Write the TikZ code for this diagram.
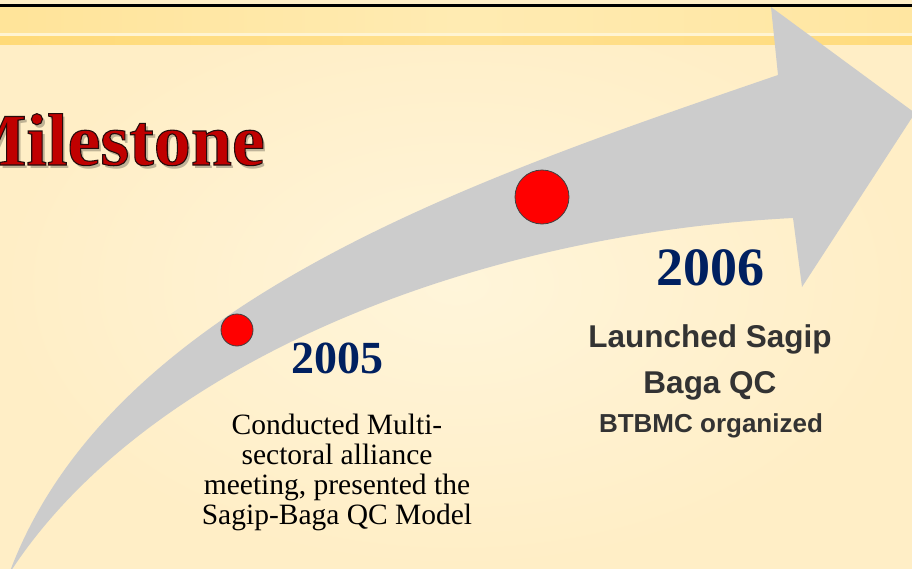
\documentclass[tikz,border=0pt]{standalone}
\usepackage{fontspec}
\setmainfont{Liberation Serif}
\newfontfamily\sansfont{Liberation Sans}
\definecolor{bgin}{HTML}{FFF5DA}
\definecolor{bgout}{HTML}{FFEEC6}
\definecolor{bandL}{HTML}{FFDC80}
\definecolor{bandM}{HTML}{FFEBB2}
\definecolor{bandR}{HTML}{FFE190}
\definecolor{goldL}{HTML}{FFD462}
\definecolor{goldM}{HTML}{FFE08E}
\definecolor{goldR}{HTML}{FFD66C}
\definecolor{bandline}{HTML}{FFF4D2}
\definecolor{arrowgray}{HTML}{CCCCCC}
\definecolor{navy}{HTML}{002060}
\definecolor{titlered}{HTML}{C00000}
\definecolor{textgray}{HTML}{333333}
\definecolor{dotline}{HTML}{404040}
\pgfdeclarehorizontalshading{bandA}{100bp}{color(0bp)=(bandL); color(50bp)=(bandM); color(100bp)=(bandR)}
\pgfdeclarehorizontalshading{bandB}{100bp}{color(0bp)=(goldL); color(50bp)=(goldM); color(100bp)=(goldR)}
\newcommand{\outlinedtext}[1]{\special{pdf:literal 0.15 0.05 0.05 RG 1.1 w 2 Tr}#1\special{pdf:literal 0 Tr}}
\tikzset{
  dot/.style={circle, fill=red, draw=dotline, line width=0.8pt, inner sep=0pt},
  yearlabel/.style={text=navy, inner sep=0pt, anchor=base, font=\bfseries},
  bodytext/.style={align=center, inner sep=0pt, anchor=north, font=\fontsize{29.5}{30}\selectfont, text=black},
  sanstext/.style={align=center, inner sep=0pt, anchor=base, text=textgray},
  titletext/.style={inner sep=0pt, anchor=base east, font=\fontsize{74}{74}\selectfont\bfseries}
}
\begin{document}
\begin{tikzpicture}[x=1pt,y=-1pt]
\useasboundingbox (0,0) rectangle (912,568);
% background
\fill[inner color=bgin, outer color=bgout] (0,0) rectangle (912,568);
% header bands
\shade[shading=bandA] (0,7) rectangle (912,33);
\fill[bandline] (0,33) rectangle (912,36);
\shade[shading=bandB] (0,36) rectangle (912,44);
\fill[black] (0,3.5) rectangle (912,7);
% curved arrow
\fill[arrowgray] (9,574) .. controls (110,300) and (478,178) .. (778,75)
  -- (771,7) -- (915,113) -- (802,287) -- (793,218)
  .. controls (460,235) and (140,370) .. (9,574) -- cycle;
% title with shadow and outline
\node[titletext, text=black, opacity=0.25] (tshadow) at (268,168) {Milestone};
\node[titletext, text=titlered] (title) at (265,165) {\outlinedtext{Milestone}};
% dots
\node[dot, minimum size=32pt] (d1) at (237,330) {};
\node[dot, minimum size=54pt] (d2) at (542,197) {};
% 2005
\node[yearlabel, font=\fontsize{46}{46}\selectfont\bfseries] (y1) at (337,373) {2005};
\node[bodytext] (t1) at (337,414) {Conducted Multi-\\sectoral alliance\\meeting, presented the\\Sagip-Baga QC Model};
% 2006
\node[yearlabel, font=\fontsize{54}{54}\selectfont\bfseries] (y2) at (710,285) {2006};
\node[sanstext, font=\sansfont\bfseries\fontsize{31.5}{46}\selectfont] (t2) at (710,347) {Launched Sagip};
\node[sanstext, font=\sansfont\bfseries\fontsize{31.5}{46}\selectfont] (t3) at (710,393) {Baga QC};
\node[sanstext, font=\sansfont\bfseries\fontsize{26}{30}\selectfont] (t4) at (711,432) {BTBMC organized};
\end{tikzpicture}
\end{document}
